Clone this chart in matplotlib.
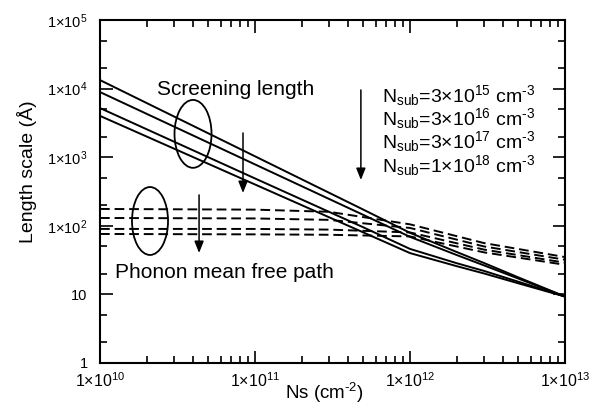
import numpy as np
import matplotlib.pyplot as plt
from matplotlib.patches import Ellipse

plt.rcParams['font.family'] = ['Liberation Sans', 'DejaVu Sans']
plt.rcParams['mathtext.fontset'] = 'custom'
plt.rcParams['mathtext.rm'] = 'Liberation Sans'
plt.rcParams['mathtext.it'] = 'Liberation Sans'
plt.rcParams['mathtext.default'] = 'regular'

# screening length (solid), one curve per substrate doping
ns_solid = [1e10, 1e11, 5e11, 1e12, 2e12, 3e12, 5e12, 1e13]
screen_1 = [13300, 1030, 172, 79, 41.5, 28.7, 17.7, 9.3]
screen_2 = [8900, 785, 144, 69, 37.5, 26.5, 17, 9.3]
screen_3 = [5200, 490, 95, 46, 28.5, 22, 15.3, 9.3]
screen_4 = [4000, 400, 80, 40, 25.8, 20.2, 14.5, 9.3]

# phonon mean free path (dashed)
ns_dash = [1e10, 1e11, 3e11, 1e12, 3e12, 1e13]
phonon_1 = [176, 172, 160, 105, 56, 35]
phonon_2 = [130, 128, 122, 93, 50, 32]
phonon_3 = [90, 90, 88, 80, 45, 29]
phonon_4 = [76, 75, 74, 70, 41, 27]

nsub_labels = [r'N$_{sub}$=3×10$^{15}$ cm$^{\text{-3}}$',
               r'N$_{sub}$=3×10$^{16}$ cm$^{\text{-3}}$',
               r'N$_{sub}$=3×10$^{17}$ cm$^{\text{-3}}$',
               r'N$_{sub}$=1×10$^{18}$ cm$^{\text{-3}}$']

xticks = [1e10, 1e11, 1e12, 1e13]
xticklabels = [r'1×10$^{10}$', r'1×10$^{11}$', r'1×10$^{12}$', r'1×10$^{13}$']
yticks = [1, 10, 1e2, 1e3, 1e4, 1e5]
yticklabels = ['1', '10', r'1×10$^{2}$', r'1×10$^{3}$', r'1×10$^{4}$', r'1×10$^{5}$']

fig = plt.figure(figsize=(6, 4.04), dpi=100)
ax = fig.add_axes([0.1667, 0.1015, 0.775, 0.849])

for s in [screen_1, screen_2, screen_3, screen_4]:
    ax.plot(ns_solid, s, '-', color='black', lw=1.4)
for p in [phonon_1, phonon_2, phonon_3, phonon_4]:
    line, = ax.plot(ns_dash, p, '--', color='black', lw=1.4)
    line.set_dashes([5, 2.5])

ax.set_xscale('log')
ax.set_yscale('log')
ax.set_xlim(1e10, 1e13)
ax.set_ylim(1, 1e5)
ax.set_xticks(xticks)
ax.set_xticklabels(xticklabels, fontsize=11.5)
ax.set_yticks(yticks)
ax.set_yticklabels(yticklabels, fontsize=10.5)
ax.yaxis.set_minor_locator(plt.matplotlib.ticker.LogLocator(base=10, subs=[2, 5]))
ax.yaxis.set_minor_formatter(plt.NullFormatter())
ax.xaxis.set_minor_formatter(plt.NullFormatter())
ax.tick_params(which='both', direction='in', top=True, right=True, width=1.2)
ax.tick_params(which='major', length=9)
ax.tick_params(which='minor', length=5)
ax.tick_params(axis='x', pad=6)
ax.tick_params(axis='y', pad=9)
for sp in ax.spines.values():
    sp.set_linewidth(1.5)

ax.set_xlabel(r'Ns (cm$^{\text{-2}}$)', fontsize=13.5)
ax.xaxis.set_label_coords(0.482, -0.052)
ax.set_ylabel('Length scale (Å)', fontsize=14)
ax.yaxis.set_label_coords(-0.135, 0.557)

ax.text(0.1226, 0.781, 'Screening length', transform=ax.transAxes, fontsize=15,
        va='baseline', ha='left')
ax.text(0.032, 0.248, 'Phonon mean free path', transform=ax.transAxes, fontsize=15,
        va='baseline', ha='left')
for lab, yb in zip(nsub_labels, [0.761, 0.694, 0.627, 0.557]):
    ax.text(0.606, yb, lab, transform=ax.transAxes, fontsize=14,
            va='baseline', ha='left')

ax.add_patch(Ellipse((0.2, 0.668), 0.0796, 0.198, transform=ax.transAxes,
                     fill=False, lw=1.3, color='black'))
ax.add_patch(Ellipse((0.1075, 0.414), 0.0775, 0.198, transform=ax.transAxes,
                     fill=False, lw=1.3, color='black'))

arrow = dict(arrowstyle='-|>,head_length=0.7,head_width=0.28', color='black', lw=1.1,
             shrinkA=0, shrinkB=0)
for x, y0, y1 in [(0.3075, 0.6706, 0.4956), (0.213, 0.49, 0.3207), (0.561, 0.796, 0.5335)]:
    ax.annotate('', xy=(x, y1), xytext=(x, y0), xycoords='axes fraction',
                textcoords='axes fraction', arrowprops=arrow)

fig.savefig('out.png', dpi=100)
